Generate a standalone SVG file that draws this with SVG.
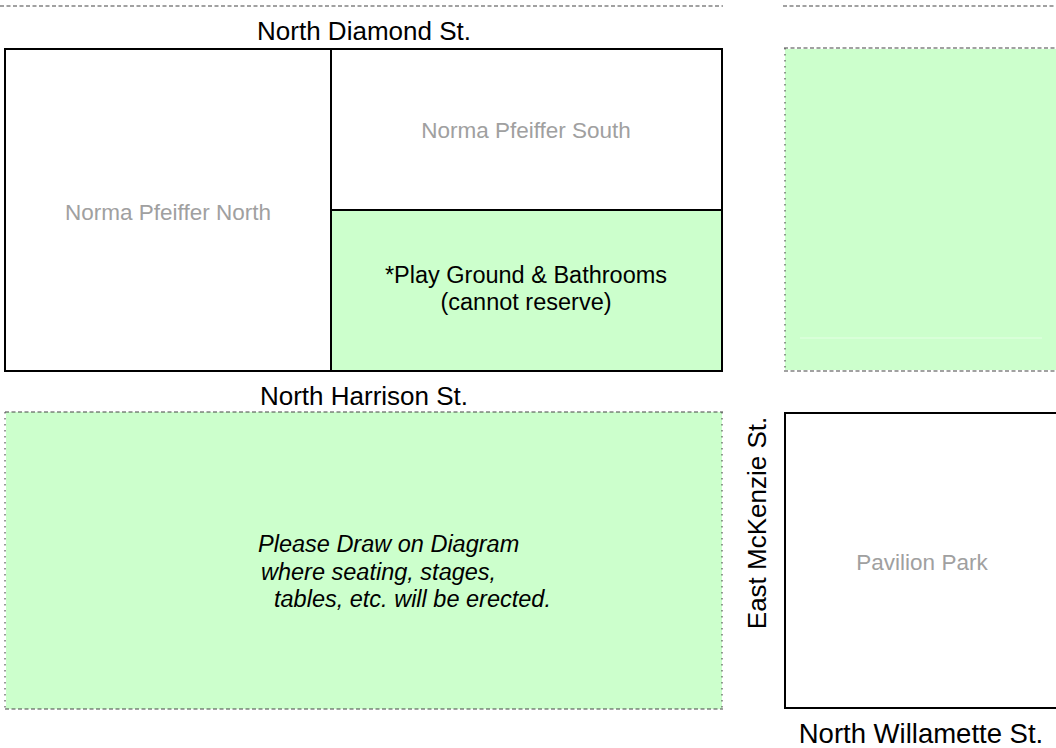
<svg xmlns="http://www.w3.org/2000/svg" width="1056" height="748" viewBox="0 0 1056 748">
<style>
.street{font-family:"Liberation Sans",Arial,sans-serif;font-size:26px;fill:#000;text-anchor:middle}
.gray{font-family:"Liberation Sans",Arial,sans-serif;font-size:22.5px;fill:#a0a0a0;text-anchor:middle}
.blk{font-family:"Liberation Sans",Arial,sans-serif;font-size:23.5px;fill:#000;text-anchor:middle}
.ital{font-family:"Liberation Sans",Arial,sans-serif;font-size:23.5px;font-style:italic;fill:#000}
.dash{stroke:#444;stroke-width:1.2;stroke-dasharray:4,2.5;fill:none}
.dot{stroke:#555;stroke-width:1.2;stroke-dasharray:1.5,4.5;fill:none}
.solid{stroke:#000;stroke-width:2;fill:none}
.green{fill:#ccffcc}
</style>
<rect width="1056" height="748" fill="#fff"/>
<g id="streets-lines">
<line class="dash" x1="0" y1="6" x2="723" y2="6"/>
<line class="dash" x1="783" y1="6" x2="1056" y2="6"/>
</g>
<g id="norma-north">
<rect class="solid" x="5" y="49" width="326" height="322" fill="#fff"/>
<text class="gray" x="168" y="220">Norma Pfeiffer North</text>
</g>
<g id="norma-south">
<rect class="solid" x="331" y="49" width="391" height="161" fill="#fff"/>
<text class="gray" x="526" y="138">Norma Pfeiffer South</text>
</g>
<g id="playground">
<rect x="332" y="211" width="389" height="159" class="green"/>
<path class="solid" d="M331 210 H722 V371 H331 Z"/>
<text class="blk" x="526" y="283">*Play Ground &amp; Bathrooms</text>
<text class="blk" x="526" y="310">(cannot reserve)</text>
</g>
<g id="right-green">
<rect x="785" y="49" width="271" height="321" class="green"/>
<line x1="800" y1="338" x2="1042" y2="338" stroke="#e4ffe4" stroke-width="1"/>
<line class="dash" x1="784" y1="48" x2="1056" y2="48"/>
<line class="dash" x1="784" y1="371" x2="1056" y2="371"/>
<line class="dot" x1="785" y1="48" x2="785" y2="371"/>
</g>
<g id="bottom-green">
<rect x="6" y="412" width="716" height="297" class="green"/>
<line class="dash" x1="5" y1="412" x2="723" y2="412"/>
<line class="dash" x1="5" y1="709" x2="723" y2="709"/>
<line class="dot" x1="5" y1="412" x2="5" y2="709"/>
<line class="dot" x1="722" y1="412" x2="722" y2="709"/>
<text class="ital" x="258" y="552">Please Draw on Diagram</text>
<text class="ital" x="261" y="580">where seating, stages,</text>
<text class="ital" x="274" y="607">tables, etc. will be erected.</text>
</g>
<g id="pavilion">
<rect class="solid" x="785" y="413" width="280" height="295" fill="#fff"/>
<text class="gray" x="922" y="570">Pavilion Park</text>
</g>
<g id="labels">
<text class="street" x="364" y="40">North Diamond St.</text>
<text class="street" x="364" y="405">North Harrison St.</text>
<text class="street" transform="translate(766,523) rotate(-90)">East McKenzie St.</text>
<text class="street" x="921" y="743" style="font-size:27.5px">North Willamette St.</text>
</g>
</svg>
